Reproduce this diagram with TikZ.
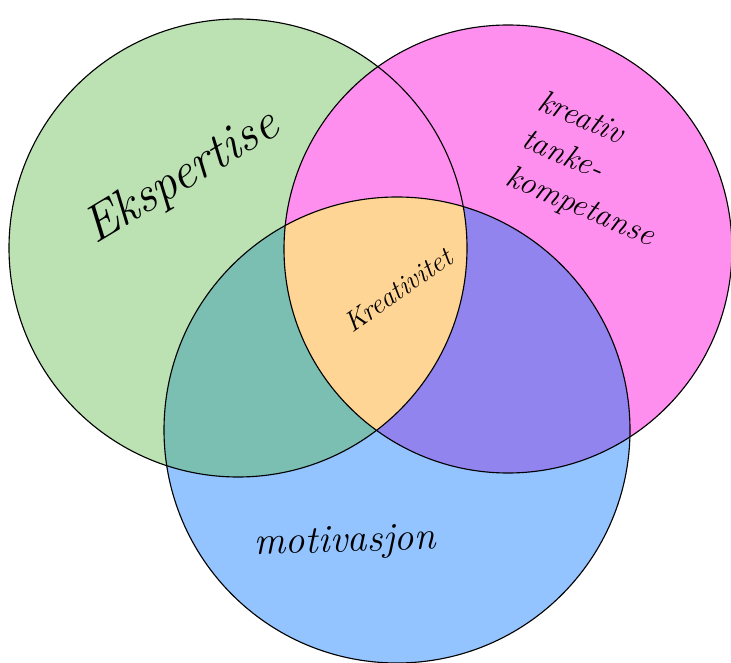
\documentclass[tikz,border=0pt]{standalone}
\usepackage{tikz}

\definecolor{ekspgreen}{HTML}{BCE2B4}
\definecolor{kreapink}{HTML}{FF8FEE}
\definecolor{motblue}{HTML}{94C4FF}
\definecolor{tealmix}{HTML}{7ABFB2}
\definecolor{purplemix}{HTML}{9184EE}
\definecolor{kjerneorange}{HTML}{FFD595}

\newcommand{\ekspcircle}{(238,248) circle (229)}
\newcommand{\kreacircle}{(508,249) circle (224)}
\newcommand{\motcircle}{(397,430) circle (233)}

\begin{document}
\begin{tikzpicture}[x=0.025cm,y=-0.025cm]
\tikzset{hand/.style={font=\itshape, inner sep=1pt}}
\useasboundingbox (0,0) rectangle (731,663);
% fargeflater
\fill[ekspgreen] \ekspcircle;
\fill[kreapink] \kreacircle;
\fill[motblue] \motcircle;
\begin{scope}
\clip \ekspcircle;
\fill[tealmix] \motcircle;
\end{scope}
\begin{scope}
\clip \kreacircle;
\fill[purplemix] \motcircle;
\end{scope}
\begin{scope}
\clip \ekspcircle;
\clip \kreacircle;
\fill[kjerneorange] \motcircle;
\end{scope}
% sirkler
\draw[line width=0.8pt] \ekspcircle;
\draw[line width=0.8pt] \kreacircle;
\draw[line width=0.8pt] \motcircle;
% tekst
\node[hand, rotate=31, font=\itshape\fontsize{36}{40}\selectfont] (ekspertise) at (182,178) {Ekspertise};
\node[hand, rotate=-23, align=left, font=\itshape\fontsize{23}{29}\selectfont] (tanke) at (596,170) {kreativ\\tanke-\\kompetanse};
\node[hand, rotate=35, font=\itshape\fontsize{20}{22}\selectfont] (kreativitet) at (398,290) {Kreativitet};
\node[hand, rotate=2, font=\itshape\fontsize{28}{30}\selectfont] (motivasjon) at (345,543) {motivasjon};
\end{tikzpicture}
\end{document}
